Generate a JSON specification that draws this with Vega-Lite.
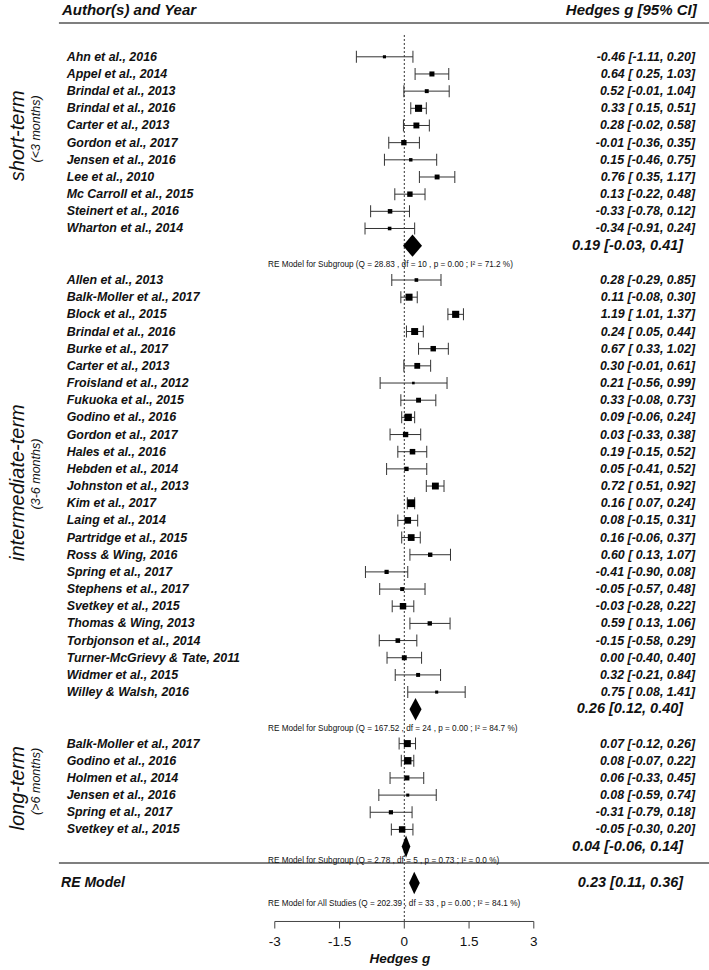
{
  "$schema": "https://vega.github.io/schema/vega-lite/v6.json",
  "width": 709,
  "height": 970,
  "padding": 0,
  "autosize": {"type": "none"},
  "background": "white",
  "config": {"view": {"stroke": null}, "text": {"font": "Liberation Sans", "color": "#111111"}},
  "datasets": {
    "studies": [
      {"row": 0, "label": "Ahn et al., 2016", "est": -0.46, "lo": -1.11, "hi": 0.20, "ci": "-0.46 [-1.11, 0.20]", "psize": 0.60},
      {"row": 1, "label": "Appel et al., 2014", "est": 0.64, "lo": 0.25, "hi": 1.03, "ci": "0.64 [ 0.25, 1.03]", "psize": 0.97},
      {"row": 2, "label": "Brindal et al., 2013", "est": 0.52, "lo": -0.01, "hi": 1.04, "ci": "0.52 [-0.01, 1.04]", "psize": 0.76},
      {"row": 3, "label": "Brindal et al., 2016", "est": 0.33, "lo": 0.15, "hi": 0.51, "ci": "0.33 [ 0.15, 0.51]", "psize": 1.37},
      {"row": 4, "label": "Carter et al., 2013", "est": 0.28, "lo": -0.02, "hi": 0.58, "ci": "0.28 [-0.02, 0.58]", "psize": 1.14},
      {"row": 5, "label": "Gordon et al., 2017", "est": -0.01, "lo": -0.36, "hi": 0.35, "ci": "-0.01 [-0.36, 0.35]", "psize": 1.03},
      {"row": 6, "label": "Jensen et al., 2016", "est": 0.15, "lo": -0.46, "hi": 0.75, "ci": "0.15 [-0.46, 0.75]", "psize": 0.66},
      {"row": 7, "label": "Lee et al., 2010", "est": 0.76, "lo": 0.35, "hi": 1.17, "ci": "0.76 [ 0.35, 1.17]", "psize": 0.94},
      {"row": 8, "label": "Mc Carroll et al., 2015", "est": 0.13, "lo": -0.22, "hi": 0.48, "ci": "0.13 [-0.22, 0.48]", "psize": 1.04},
      {"row": 9, "label": "Steinert et al., 2016", "est": -0.33, "lo": -0.78, "hi": 0.12, "ci": "-0.33 [-0.78, 0.12]", "psize": 0.87},
      {"row": 10, "label": "Wharton et al., 2014", "est": -0.34, "lo": -0.91, "hi": 0.24, "ci": "-0.34 [-0.91, 0.24]", "psize": 0.69},
      {"row": 13, "label": "Allen et al., 2013", "est": 0.28, "lo": -0.29, "hi": 0.85, "ci": "0.28 [-0.29, 0.85]", "psize": 0.70},
      {"row": 14, "label": "Balk-Moller et al., 2017", "est": 0.11, "lo": -0.08, "hi": 0.30, "ci": "0.11 [-0.08, 0.30]", "psize": 1.35},
      {"row": 15, "label": "Block et al., 2015", "est": 1.19, "lo": 1.01, "hi": 1.37, "ci": "1.19 [ 1.01, 1.37]", "psize": 1.37},
      {"row": 16, "label": "Brindal et al., 2016", "est": 0.24, "lo": 0.05, "hi": 0.44, "ci": "0.24 [ 0.05, 0.44]", "psize": 1.34},
      {"row": 17, "label": "Burke et al., 2017", "est": 0.67, "lo": 0.33, "hi": 1.02, "ci": "0.67 [ 0.33, 1.02]", "psize": 1.05},
      {"row": 18, "label": "Carter et al., 2013", "est": 0.30, "lo": -0.01, "hi": 0.61, "ci": "0.30 [-0.01, 0.61]", "psize": 1.12},
      {"row": 19, "label": "Froisland et al., 2012", "est": 0.21, "lo": -0.56, "hi": 0.99, "ci": "0.21 [-0.56, 0.99]", "psize": 0.50},
      {"row": 20, "label": "Fukuoka et al., 2015", "est": 0.33, "lo": -0.08, "hi": 0.73, "ci": "0.33 [-0.08, 0.73]", "psize": 0.94},
      {"row": 21, "label": "Godino et al., 2016", "est": 0.09, "lo": -0.06, "hi": 0.24, "ci": "0.09 [-0.06, 0.24]", "psize": 1.42},
      {"row": 22, "label": "Gordon et al., 2017", "est": 0.03, "lo": -0.33, "hi": 0.38, "ci": "0.03 [-0.33, 0.38]", "psize": 1.03},
      {"row": 23, "label": "Hales et al., 2016", "est": 0.19, "lo": -0.15, "hi": 0.52, "ci": "0.19 [-0.15, 0.52]", "psize": 1.07},
      {"row": 24, "label": "Hebden et al., 2014", "est": 0.05, "lo": -0.41, "hi": 0.52, "ci": "0.05 [-0.41, 0.52]", "psize": 0.84},
      {"row": 25, "label": "Johnston et al., 2013", "est": 0.72, "lo": 0.51, "hi": 0.92, "ci": "0.72 [ 0.51, 0.92]", "psize": 1.32},
      {"row": 26, "label": "Kim et al., 2017", "est": 0.16, "lo": 0.07, "hi": 0.24, "ci": "0.16 [ 0.07, 0.24]", "psize": 1.50},
      {"row": 27, "label": "Laing et al., 2014", "est": 0.08, "lo": -0.15, "hi": 0.31, "ci": "0.08 [-0.15, 0.31]", "psize": 1.27},
      {"row": 28, "label": "Partridge et al., 2015", "est": 0.16, "lo": -0.06, "hi": 0.37, "ci": "0.16 [-0.06, 0.37]", "psize": 1.30},
      {"row": 29, "label": "Ross & Wing, 2016", "est": 0.60, "lo": 0.13, "hi": 1.07, "ci": "0.60 [ 0.13, 1.07]", "psize": 0.84},
      {"row": 30, "label": "Spring et al., 2017", "est": -0.41, "lo": -0.90, "hi": 0.08, "ci": "-0.41 [-0.90, 0.08]", "psize": 0.81},
      {"row": 31, "label": "Stephens et al., 2017", "est": -0.05, "lo": -0.57, "hi": 0.48, "ci": "-0.05 [-0.57, 0.48]", "psize": 0.76},
      {"row": 32, "label": "Svetkey et al., 2015", "est": -0.03, "lo": -0.28, "hi": 0.22, "ci": "-0.03 [-0.28, 0.22]", "psize": 1.24},
      {"row": 33, "label": "Thomas & Wing, 2013", "est": 0.59, "lo": 0.13, "hi": 1.06, "ci": "0.59 [ 0.13, 1.06]", "psize": 0.84},
      {"row": 34, "label": "Torbjonson et al., 2014", "est": -0.15, "lo": -0.58, "hi": 0.29, "ci": "-0.15 [-0.58, 0.29]", "psize": 0.89},
      {"row": 35, "label": "Turner-McGrievy & Tate, 2011", "est": 0.00, "lo": -0.40, "hi": 0.40, "ci": "0.00 [-0.40, 0.40]", "psize": 0.95},
      {"row": 36, "label": "Widmer et al., 2015", "est": 0.32, "lo": -0.21, "hi": 0.84, "ci": "0.32 [-0.21, 0.84]", "psize": 0.76},
      {"row": 37, "label": "Willey & Walsh, 2016", "est": 0.75, "lo": 0.08, "hi": 1.41, "ci": "0.75 [ 0.08, 1.41]", "psize": 0.59},
      {"row": 40, "label": "Balk-Moller et al., 2017", "est": 0.07, "lo": -0.12, "hi": 0.26, "ci": "0.07 [-0.12, 0.26]", "psize": 1.35},
      {"row": 41, "label": "Godino et al., 2016", "est": 0.08, "lo": -0.07, "hi": 0.22, "ci": "0.08 [-0.07, 0.22]", "psize": 1.42},
      {"row": 42, "label": "Holmen et al., 2014", "est": 0.06, "lo": -0.33, "hi": 0.45, "ci": "0.06 [-0.33, 0.45]", "psize": 0.97},
      {"row": 43, "label": "Jensen et al., 2016", "est": 0.08, "lo": -0.59, "hi": 0.74, "ci": "0.08 [-0.59, 0.74]", "psize": 0.59},
      {"row": 44, "label": "Spring et al., 2017", "est": -0.31, "lo": -0.79, "hi": 0.18, "ci": "-0.31 [-0.79, 0.18]", "psize": 0.81},
      {"row": 45, "label": "Svetkey et al., 2015", "est": -0.05, "lo": -0.30, "hi": 0.20, "ci": "-0.05 [-0.30, 0.20]", "psize": 1.24}
    ],
    "summaries": [
      {"row": 11, "ci": "0.19 [-0.03, 0.41]", "noteRow": 12.13, "note": "RE Model for Subgroup (Q =   28.83 , df = 10 , p = 0.00 ; I² = 71.2 %)"},
      {"row": 38, "ci": "0.26 [0.12, 0.40]", "noteRow": 39.15, "note": "RE Model for Subgroup (Q =   167.52 , df = 24 , p = 0.00 ; I² = 84.7 %)"},
      {"row": 46, "ci": "0.04 [-0.06, 0.14]", "noteRow": 46.85, "note": "RE Model for Subgroup (Q =   2.78 , df = 5 , p = 0.73 ; I² = 0.0 %)"},
      {"row": 48.12, "ci": "0.23 [0.11, 0.36]", "noteRow": 49.34, "note": "RE Model for All Studies (Q =   202.39 , df = 33 , p = 0.00 ; I² = 84.1 %)"}
    ],
    "diamonds": [
      {"model": "short", "x": -0.03, "top": 11, "bottom": 11},
      {"model": "short", "x": 0.19, "top": 10.35, "bottom": 11.65},
      {"model": "short", "x": 0.41, "top": 11, "bottom": 11},
      {"model": "inter", "x": 0.12, "top": 38, "bottom": 38},
      {"model": "inter", "x": 0.26, "top": 37.35, "bottom": 38.65},
      {"model": "inter", "x": 0.40, "top": 38, "bottom": 38},
      {"model": "long", "x": -0.06, "top": 46, "bottom": 46},
      {"model": "long", "x": 0.04, "top": 45.35, "bottom": 46.65},
      {"model": "long", "x": 0.14, "top": 46, "bottom": 46},
      {"model": "all", "x": 0.11, "top": 48.12, "bottom": 48.12},
      {"model": "all", "x": 0.23, "top": 47.47, "bottom": 48.77},
      {"model": "all", "x": 0.36, "top": 48.12, "bottom": 48.12}
    ],
    "ticks": [
      {"v": -3, "l": "-3"}, {"v": -1.5, "l": "-1.5"}, {"v": 0, "l": "0"}, {"v": 1.5, "l": "1.5"}, {"v": 3, "l": "3"}
    ],
    "groups": [
      {"row": 4.6, "subrow": 4.2, "name": "short-term", "sub": "(<3 months)"},
      {"row": 24.8, "subrow": 24.3, "name": "intermediate-term", "sub": "(3-6 months)"},
      {"row": 42.6, "subrow": 42.2, "name": "long-term", "sub": "(>6 months)"}
    ]
  },
  "layer": [
    {
      "data": {"values": [{}]},
      "mark": {"type": "rule", "color": "#555555", "strokeWidth": 1.5},
      "encoding": {
        "x": {"datum": -8.0, "type": "quantitative", "scale": {"domain": [-9.365, 7.058], "nice": false, "zero": false}, "axis": null},
        "x2": {"datum": 7.058},
        "y": {"datum": -1.97, "type": "quantitative", "scale": {"domain": [-3.308, 53.186], "nice": false, "zero": false, "reverse": true}, "axis": null}
      }
    },
    {
      "data": {"values": [{}]},
      "mark": {"type": "rule", "color": "#555555", "strokeWidth": 1.5},
      "encoding": {
        "x": {"datum": -8.0, "type": "quantitative"},
        "x2": {"datum": 7.058},
        "y": {"datum": 46.95, "type": "quantitative"}
      }
    },
    {
      "data": {"values": [{}]},
      "mark": {"type": "rule", "color": "#333333", "strokeWidth": 1, "strokeDash": [2, 2]},
      "encoding": {
        "x": {"datum": 0, "type": "quantitative"},
        "y": {"datum": -1.27, "type": "quantitative"},
        "y2": {"datum": 50.36}
      }
    },
    {
      "data": {"values": [{}]},
      "mark": {"type": "rule", "color": "#444444", "strokeWidth": 1},
      "encoding": {
        "x": {"datum": -3, "type": "quantitative"},
        "x2": {"datum": 3},
        "y": {"datum": 50.36, "type": "quantitative"}
      }
    },
    {
      "data": {"name": "ticks"},
      "mark": {"type": "rule", "color": "#444444", "strokeWidth": 1},
      "encoding": {
        "x": {"field": "v", "type": "quantitative"},
        "y": {"datum": 50.36, "type": "quantitative"},
        "y2": {"datum": 50.77}
      }
    },
    {
      "data": {"name": "ticks"},
      "mark": {"type": "text", "fontSize": 13.5, "align": "center", "baseline": "middle"},
      "encoding": {
        "x": {"field": "v", "type": "quantitative"},
        "y": {"datum": 51.53, "type": "quantitative"},
        "text": {"field": "l"}
      }
    },
    {
      "data": {"values": [{"t": "Hedges g"}]},
      "mark": {"type": "text", "fontSize": 13.5, "fontWeight": "bold", "fontStyle": "italic", "align": "center", "baseline": "middle"},
      "encoding": {
        "x": {"datum": -0.1, "type": "quantitative"},
        "y": {"datum": 52.57, "type": "quantitative"},
        "text": {"field": "t"}
      }
    },
    {
      "data": {"name": "studies"},
      "mark": {"type": "rule", "color": "#333333", "strokeWidth": 1},
      "encoding": {
        "x": {"field": "lo", "type": "quantitative"},
        "x2": {"field": "hi"},
        "y": {"field": "row", "type": "quantitative"}
      }
    },
    {
      "data": {"name": "studies"},
      "mark": {"type": "tick", "orient": "vertical", "size": 12, "thickness": 1, "color": "#333333", "opacity": 1},
      "encoding": {
        "x": {"field": "lo", "type": "quantitative"},
        "y": {"field": "row", "type": "quantitative"}
      }
    },
    {
      "data": {"name": "studies"},
      "mark": {"type": "tick", "orient": "vertical", "size": 12, "thickness": 1, "color": "#333333", "opacity": 1},
      "encoding": {
        "x": {"field": "hi", "type": "quantitative"},
        "y": {"field": "row", "type": "quantitative"}
      }
    },
    {
      "data": {"name": "studies"},
      "mark": {"type": "point", "shape": "square", "filled": true, "color": "#000000", "opacity": 1, "strokeWidth": 0},
      "encoding": {
        "x": {"field": "est", "type": "quantitative"},
        "y": {"field": "row", "type": "quantitative"},
        "size": {"field": "psize", "type": "quantitative", "scale": {"type": "pow", "exponent": 2, "domain": [0, 1.5], "range": [0, 60.8]}, "legend": null}
      }
    },
    {
      "data": {"name": "studies"},
      "mark": {"type": "text", "fontSize": 12.4, "fontWeight": "bold", "fontStyle": "italic", "align": "left", "baseline": "middle"},
      "encoding": {
        "x": {"datum": -7.82, "type": "quantitative"},
        "y": {"field": "row", "type": "quantitative"},
        "text": {"field": "label"}
      }
    },
    {
      "data": {"name": "studies"},
      "mark": {"type": "text", "fontSize": 12.4, "fontWeight": "bold", "fontStyle": "italic", "align": "right", "baseline": "middle"},
      "encoding": {
        "x": {"datum": 6.734, "type": "quantitative"},
        "y": {"field": "row", "type": "quantitative"},
        "text": {"field": "ci"}
      }
    },
    {
      "data": {"name": "diamonds"},
      "mark": {"type": "area", "orient": "vertical", "color": "#000000", "opacity": 1},
      "encoding": {
        "x": {"field": "x", "type": "quantitative"},
        "y": {"field": "top", "type": "quantitative"},
        "y2": {"field": "bottom"},
        "detail": {"field": "model"}
      }
    },
    {
      "data": {"name": "summaries"},
      "mark": {"type": "text", "fontSize": 14.5, "fontWeight": "bold", "fontStyle": "italic", "align": "right", "baseline": "middle"},
      "encoding": {
        "x": {"datum": 6.46, "type": "quantitative"},
        "y": {"field": "row", "type": "quantitative"},
        "text": {"field": "ci"}
      }
    },
    {
      "data": {"name": "summaries"},
      "mark": {"type": "text", "fontSize": 8.2, "font": "Liberation Sans", "align": "left", "baseline": "middle"},
      "encoding": {
        "x": {"datum": -3.157, "type": "quantitative"},
        "y": {"field": "noteRow", "type": "quantitative"},
        "text": {"field": "note"}
      }
    },
    {
      "data": {"values": [{"t": "RE Model"}]},
      "mark": {"type": "text", "fontSize": 14, "fontWeight": "bold", "fontStyle": "italic", "align": "left", "baseline": "middle"},
      "encoding": {
        "x": {"datum": -7.95, "type": "quantitative"},
        "y": {"datum": 48.12, "type": "quantitative"},
        "text": {"field": "t"}
      }
    },
    {
      "data": {"values": [{"t": "Author(s) and Year"}]},
      "mark": {"type": "text", "fontSize": 15, "fontWeight": "bold", "fontStyle": "italic", "align": "left", "baseline": "middle"},
      "encoding": {
        "x": {"datum": -7.93, "type": "quantitative"},
        "y": {"datum": -2.73, "type": "quantitative"},
        "text": {"field": "t"}
      }
    },
    {
      "data": {"values": [{"t": "Hedges g [95% CI]"}]},
      "mark": {"type": "text", "fontSize": 15, "fontWeight": "bold", "fontStyle": "italic", "align": "right", "baseline": "middle"},
      "encoding": {
        "x": {"datum": 6.773, "type": "quantitative"},
        "y": {"datum": -2.73, "type": "quantitative"},
        "text": {"field": "t"}
      }
    },
    {
      "data": {"name": "groups"},
      "mark": {"type": "text", "fontSize": 20, "fontStyle": "italic", "angle": 270, "align": "center", "baseline": "middle"},
      "encoding": {
        "x": {"datum": -8.948, "type": "quantitative"},
        "y": {"field": "row", "type": "quantitative"},
        "text": {"field": "name"}
      }
    },
    {
      "data": {"name": "groups"},
      "mark": {"type": "text", "fontSize": 12.5, "fontStyle": "italic", "angle": 270, "align": "center", "baseline": "middle"},
      "encoding": {
        "x": {"datum": -8.53, "type": "quantitative"},
        "y": {"field": "subrow", "type": "quantitative"},
        "text": {"field": "sub"}
      }
    }
  ]
}
